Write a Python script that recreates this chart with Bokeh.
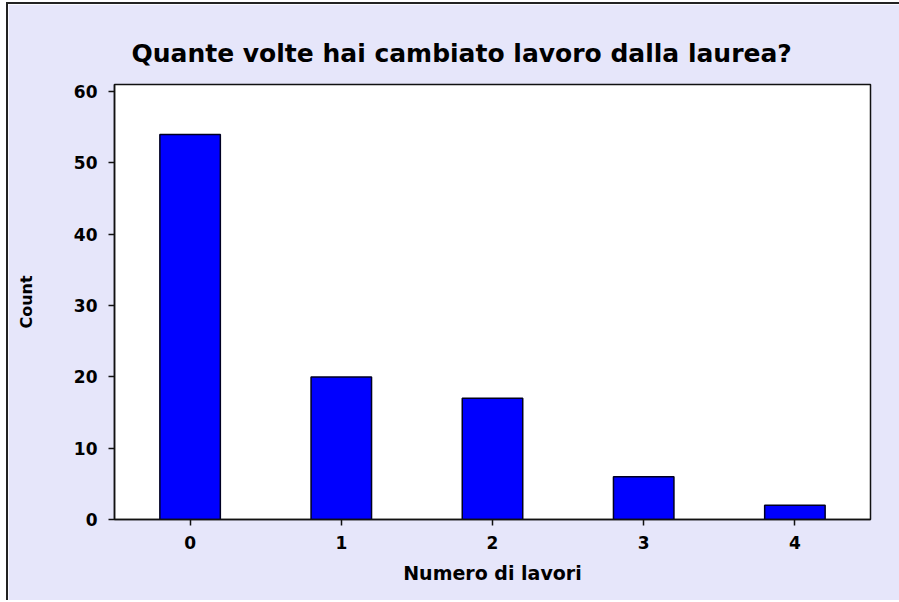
from bokeh.plotting import figure
from bokeh.models import Range1d, FixedTicker, ColumnDataSource, Title
from bokeh.embed import file_html
from bokeh.resources import INLINE

# Data
lavori = [0, 1, 2, 3, 4]
conteggi = [54, 20, 17, 6, 2]
y_ticks = [0, 10, 20, 30, 40, 50, 60]
title_text = "Quante volte hai cambiato lavoro dalla laurea?"
x_label = "Numero di lavori"
y_label = "Count"

BG = "#E6E6FA"
FONT = "DejaVu Sans"

src = ColumnDataSource(dict(x=lavori, top=conteggi))

p = figure(width=893, height=598, output_backend="svg", toolbar_location=None,
           x_range=Range1d(-0.5, 4.5), y_range=Range1d(0, 61),
           min_border_left=106, min_border_right=31,
           min_border_top=80, min_border_bottom=83)
p.styles = {"border-top": "2px solid #222222", "border-left": "2px solid #222222",
            "margin-left": "6px", "margin-top": "2px"}

p.background_fill_color = "white"
p.border_fill_color = BG
p.outline_line_color = "#111111"
p.outline_line_width = 1.5

p.vbar(x="x", top="top", width=0.4, bottom=0, source=src,
       fill_color="#0000FF", line_color="#000022", line_width=1.5)

p.xgrid.visible = False
p.ygrid.visible = False

t = Title(text=title_text, align="left", offset=17,
          text_font=FONT, text_font_size="25px", text_font_style="bold",
          text_color="black", standoff=34)
p.add_layout(t, "above")

for ax in (p.xaxis[0], p.yaxis[0]):
    ax.axis_line_color = "#111111"
    ax.axis_line_width = 1.5
    ax.major_tick_line_color = "#111111"
    ax.major_tick_line_width = 1.5
    ax.major_tick_in = 0
    ax.major_tick_out = 6
    ax.minor_tick_line_color = None
    ax.major_label_text_font = FONT
    ax.major_label_text_font_style = "bold"
    ax.major_label_text_color = "black"
    ax.axis_label_text_font = FONT
    ax.axis_label_text_font_style = "bold"
    ax.axis_label_text_color = "black"

p.xaxis.ticker = FixedTicker(ticks=lavori)
p.yaxis.ticker = FixedTicker(ticks=y_ticks)
p.xaxis.major_label_text_font_size = "17px"
p.yaxis.major_label_text_font_size = "17px"
p.xaxis.major_label_standoff = 10
p.yaxis.major_label_standoff = 11
p.xaxis.axis_label = x_label
p.yaxis.axis_label = y_label
p.xaxis.axis_label_text_font_size = "19px"
p.yaxis.axis_label_text_font_size = "16px"
p.xaxis.axis_label_standoff = 10
p.yaxis.axis_label_standoff = 35

open("out.html", "w").write(file_html(p, INLINE))
